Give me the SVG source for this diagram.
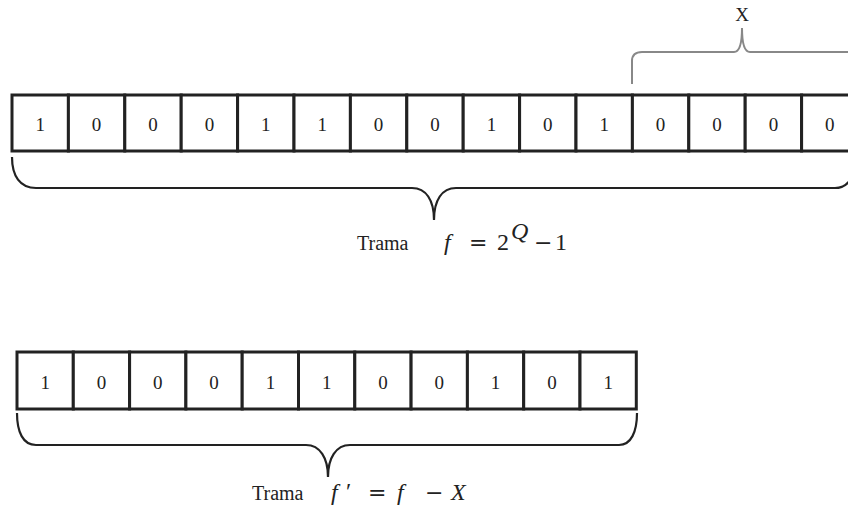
<svg xmlns="http://www.w3.org/2000/svg" width="848" height="510" viewBox="0 0 848 510">
<style>
.cell{fill:#fff;stroke:#222;stroke-width:3}
.d{font-family:"Liberation Serif",serif;font-size:19px;fill:#222;text-anchor:middle}
.t{font-family:"Liberation Serif",serif;font-size:20px;fill:#222}
.m{font-family:"Liberation Serif",serif;font-size:24px;fill:#222}
.op{font-family:"DejaVu Serif",serif;font-size:22px;fill:#222}
.i{font-style:italic}
.br{fill:none;stroke:#222;stroke-width:2.2}
.bx{fill:none;stroke:#888;stroke-width:2}
</style>
<rect width="848" height="510" fill="#fff"/>
<g id="frame-top">
<rect class="cell" x="12" y="95" width="56.4" height="56"/>
<rect class="cell" x="68.4" y="95" width="56.4" height="56"/>
<rect class="cell" x="124.8" y="95" width="56.4" height="56"/>
<rect class="cell" x="181.2" y="95" width="56.4" height="56"/>
<rect class="cell" x="237.6" y="95" width="56.4" height="56"/>
<rect class="cell" x="294" y="95" width="56.4" height="56"/>
<rect class="cell" x="350.4" y="95" width="56.4" height="56"/>
<rect class="cell" x="406.8" y="95" width="56.4" height="56"/>
<rect class="cell" x="463.2" y="95" width="56.4" height="56"/>
<rect class="cell" x="519.6" y="95" width="56.4" height="56"/>
<rect class="cell" x="576" y="95" width="56.4" height="56"/>
<rect class="cell" x="632.4" y="95" width="56.4" height="56"/>
<rect class="cell" x="688.8" y="95" width="56.4" height="56"/>
<rect class="cell" x="745.2" y="95" width="56.4" height="56"/>
<rect class="cell" x="801.6" y="95" width="56.4" height="56"/>
<text class="d" x="40.2" y="131">1</text>
<text class="d" x="96.6" y="131">0</text>
<text class="d" x="153" y="131">0</text>
<text class="d" x="209.4" y="131">0</text>
<text class="d" x="265.8" y="131">1</text>
<text class="d" x="322.2" y="131">1</text>
<text class="d" x="378.6" y="131">0</text>
<text class="d" x="435" y="131">0</text>
<text class="d" x="491.4" y="131">1</text>
<text class="d" x="547.8" y="131">0</text>
<text class="d" x="604.2" y="131">1</text>
<text class="d" x="660.6" y="131">0</text>
<text class="d" x="717" y="131">0</text>
<text class="d" x="773.4" y="131">0</text>
<text class="d" x="829.8" y="131">0</text>
</g>
<g id="frame-bottom">
<rect class="cell" x="17" y="352" width="56.3" height="57"/>
<rect class="cell" x="73.3" y="352" width="56.3" height="57"/>
<rect class="cell" x="129.6" y="352" width="56.3" height="57"/>
<rect class="cell" x="185.9" y="352" width="56.3" height="57"/>
<rect class="cell" x="242.2" y="352" width="56.3" height="57"/>
<rect class="cell" x="298.5" y="352" width="56.3" height="57"/>
<rect class="cell" x="354.8" y="352" width="56.3" height="57"/>
<rect class="cell" x="411.1" y="352" width="56.3" height="57"/>
<rect class="cell" x="467.4" y="352" width="56.3" height="57"/>
<rect class="cell" x="523.7" y="352" width="56.3" height="57"/>
<rect class="cell" x="580" y="352" width="56.3" height="57"/>
<text class="d" x="45.2" y="389">1</text>
<text class="d" x="101.5" y="389">0</text>
<text class="d" x="157.8" y="389">0</text>
<text class="d" x="214.1" y="389">0</text>
<text class="d" x="270.4" y="389">1</text>
<text class="d" x="326.7" y="389">1</text>
<text class="d" x="383" y="389">0</text>
<text class="d" x="439.3" y="389">0</text>
<text class="d" x="495.6" y="389">1</text>
<text class="d" x="551.9" y="389">0</text>
<text class="d" x="608.2" y="389">1</text>
</g>
<g id="braces">
<path class="br" d="M12,157 C12,176 20,188 36,188 L412,188 C426,188 434,200 434,220 C434,200 442,188 456,188 L835,188 C848,188 856,176 856,157"/>
<path class="br" d="M17,413 C17,432 23,445 36,445 L306,445 C320,445 328,458 328,477 C328,458 336,445 350,445 L619,445 C631,445 637,432 637,413"/>
<path class="bx" d="M632,84 L632,61 C632,55 636,52 642,52 L734,52 C739,52 742,46 742,28 C742,46 745,52 750,52 L850,52"/>
</g>
<g id="labels">
<text class="d" x="742" y="21">X</text>
<text class="t" x="357" y="250">Trama</text>
<text class="m i" x="444" y="250">f</text>
<text class="op" x="469" y="250">=</text>
<text class="m" x="497" y="250">2</text>
<text class="m i" x="511" y="239" font-size="16">Q</text>
<text class="op" x="534" y="250">−</text>
<text class="m" x="555" y="250">1</text>
<text class="t" x="252" y="500">Trama</text>
<text class="m i" x="331" y="500">f</text>
<text class="m" x="346" y="499" font-size="20">′</text>
<text class="op" x="368" y="500">=</text>
<text class="m i" x="397" y="500">f</text>
<text class="op" x="425" y="500">−</text>
<text class="m i" x="451" y="500">X</text>
</g>
</svg>
